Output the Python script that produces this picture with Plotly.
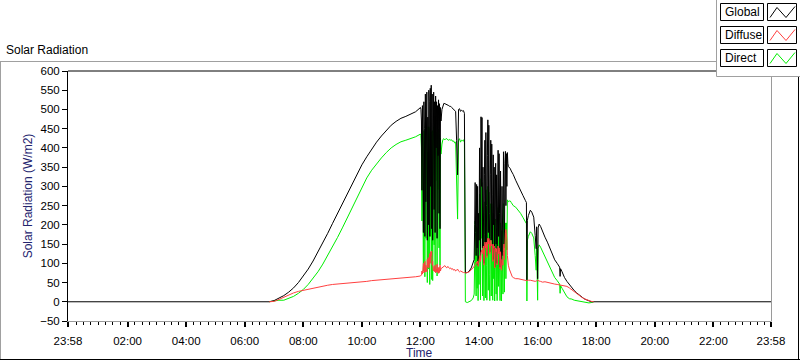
import plotly.graph_objects as go

# ---------------- data ----------------
clock = [
    "2024-01-01 23:58",
    "06:50", "07:00", "07:10", "07:20", "07:30", "07:40", "07:50", "08:00", "08:10", "08:20",
    "08:30", "08:40", "08:50", "09:00", "09:10", "09:20", "09:30", "09:40", "09:50", "10:00",
    "10:10", "10:20", "10:30", "10:40", "10:50", "11:00", "11:10", "11:20", "11:30", "11:40", "11:50",
    "12:00",
    "12:01", "12:02", "12:03", "12:04", "12:05", "12:06", "12:07", "12:08", "12:09", "12:10",
    "12:11", "12:12", "12:13", "12:14", "12:15", "12:16", "12:17", "12:18", "12:19", "12:20",
    "12:21", "12:22", "12:23", "12:24", "12:25", "12:26", "12:27", "12:28", "12:29", "12:30",
    "12:31", "12:32", "12:33", "12:34", "12:35", "12:36", "12:37", "12:38", "12:39", "12:40",
    "12:41", "12:42",
    "12:44", "12:46", "12:48", "12:50", "12:52", "12:54", "12:56", "12:58", "13:00", "13:02",
    "13:04", "13:06", "13:08", "13:10", "13:12", "13:14", "13:16", "13:18", "13:20", "13:22",
    "13:24", "13:26", "13:28", "13:30",
    "13:32", "13:36", "13:40", "13:44", "13:48",
    "13:50", "13:51", "13:52", "13:53", "13:54", "13:55", "13:56", "13:57", "13:58", "13:59",
    "14:00", "14:01", "14:02", "14:03", "14:04", "14:05", "14:06", "14:07", "14:08", "14:09",
    "14:10", "14:11", "14:12", "14:13", "14:14", "14:15", "14:16", "14:17", "14:18", "14:19",
    "14:20", "14:21", "14:22", "14:23", "14:24", "14:25", "14:26", "14:27", "14:28", "14:29",
    "14:30", "14:31", "14:32", "14:33", "14:34", "14:35", "14:36", "14:37", "14:38", "14:39",
    "14:40", "14:41", "14:42", "14:43", "14:44", "14:45", "14:46", "14:47", "14:48", "14:49",
    "14:50", "14:51", "14:52", "14:53", "14:54", "14:55", "14:56", "14:57", "14:58", "14:59",
    "15:00", "15:02", "15:04", "15:06", "15:08", "15:10",
    "15:15", "15:20", "15:25", "15:30", "15:35", "15:37", "15:38", "15:39", "15:41", "15:45",
    "15:48", "15:52", "15:55", "15:57", "15:58", "15:59", "16:00", "16:01", "16:03", "16:06",
    "16:10", "16:15", "16:20", "16:25", "16:30", "16:35", "16:40", "16:45", "16:46", "16:47",
    "16:50", "16:55", "17:00", "17:05", "17:10", "17:15", "17:20", "17:25", "17:30", "17:35",
    "17:40", "17:45", "17:50", "17:55",
    "2024-01-02 23:58",
]

global_wm2 = [
    0,
    0, 3, 9, 16, 25, 36, 50, 66, 85, 106,
    129, 153, 178, 204, 230, 256, 282, 307, 332, 356,
    377, 397, 415, 431, 446, 459, 469, 477, 482, 487, 494,
    505,
    500, 470, 290, 510, 330, 180, 520, 450, 170, 540,
    260, 530, 545, 160, 480, 200, 550, 520, 170, 555,
    300, 563, 190, 540, 160, 530, 545, 240, 520, 180,
    535, 400, 520, 165, 510, 380, 525, 230, 515, 190,
    505, 470,
    500, 512, 516, 515, 514, 512, 513, 510, 508, 508,
    505, 503, 500, 497, 495, 420, 330, 500, 502, 495,
    498, 496, 497, 490,
    75, 76, 80, 88, 100,
    110, 200, 310, 180, 120, 305, 140, 300, 95, 230,
    160, 400, 210, 110, 481, 300, 479, 140, 350, 200,
    100, 330, 420, 150, 440, 250, 120, 380, 473, 180,
    459, 230, 130, 330, 420, 160, 410, 280, 110, 382,
    200, 350, 90, 250, 360, 150, 330, 100, 280, 394,
    170, 385, 230, 90, 340, 180, 85, 300, 200, 120,
    390, 280, 140, 360, 391, 250, 385, 300, 388, 360,
    352, 350, 346, 340, 336, 331,
    316, 301, 289, 276, 263, 258, 57, 212, 224, 238,
    233, 220, 172, 138, 195, 150, 60, 192, 202, 196,
    182, 168, 155, 140, 122, 109, 100, 90, 66, 86,
    78, 63, 53, 44, 38, 29, 23, 18, 12, 8,
    5, 2, 0, 0,
    0,
]

diffuse_wm2 = [
    None,
    0, 1, 6, 12, 18, 23, 27, 30, 33, 36,
    39, 41, 43, 45, 46, 48, 49, 50, 51, 52,
    53, 55, 56, 57, 58, 59, 60, 61, 62, 63, 65,
    67,
    68, 70, 80, 72, 85, 100, 75, 80, 105, 78,
    95, 80, 78, 110, 90, 115, 88, 95, 125, 100,
    130, 120, 132, 95, 105, 82, 80, 92, 78, 95,
    75, 85, 78, 98, 76, 88, 74, 90, 76, 95,
    80, 86,
    88, 90, 92, 94, 90, 88, 92, 90, 86, 88,
    84, 86, 82, 84, 80, 82, 85, 80, 78, 80,
    78, 77, 76, 76,
    75, 76, 78, 83, 88,
    90, 92, 95, 97, 100, 103, 100, 106, 92, 105,
    110, 115, 120, 105, 128, 130, 135, 125, 140, 145,
    95, 150, 155, 140, 150, 155, 115, 160, 165, 150,
    165, 160, 125, 155, 160, 145, 150, 148, 105, 150,
    140, 145, 88, 135, 140, 130, 138, 96, 130, 145,
    125, 140, 130, 86, 130, 115, 82, 110, 100, 95,
    130, 150, 110, 165, 180, 188, 175, 160, 120, 100,
    95, 85, 78, 70, 65, 63,
    60, 60, 58, 57, 55, 55, 55, 56, 56, 56,
    55, 54, 53, 54, 54, 55, 56, 55, 54, 53,
    51, 52, 50, 48, 47, 46, 45, 44, 44, 44,
    43, 41, 40, 36, 31, 25, 20, 16, 12, 8,
    5, 3, 1, 0,
    None,
]

direct_wm2 = [
    None,
    0, 2, 4, 4, 8, 14, 22, 32, 45, 60,
    78, 98, 120, 143, 167, 192, 218, 244, 272, 300,
    322, 342, 359, 374, 388, 400, 409, 416, 420, 424, 429,
    436,
    432, 400, 210, 438, 245, 80, 445, 370, 65, 455,
    165, 450, 455, 50, 390, 85, 455, 425, 45, 450,
    170, 440, 58, 445, 55, 448, 455, 148, 440, 85,
    455, 315, 440, 67, 434, 292, 448, 140, 436, 95,
    425, 384,
    410, 422, 424, 421, 424, 424, 421, 420, 422, 420,
    421, 417, 418, 413, 415, 338, 215, 420, 424, 415,
    420, 419, 421, 414,
    0, -2, 0, 3, 10,
    20, 105, 210, 80, 15, 195, 35, 190, 3, 120,
    45, 280, 85, 5, 320, 165, 310, 15, 205, 50,
    3, 175, 260, 10, 291, 95, 4, 215, 300, 30,
    285, 70, 3, 170, 255, 15, 255, 130, 4, 230,
    60, 200, 2, 110, 215, 20, 190, 3, 145, 245,
    40, 240, 95, 3, 205, 60, 2, 185, 95, 20,
    255, 125, 25, 190, 205, 60, 205, 135, 265, 262,
    260, 262, 262, 258, 255, 250,
    246, 239, 230, 219, 208, 203, 2, 160, 170, 182,
    178, 166, 120, 82, 140, 92, 4, 138, 148, 142,
    131, 116, 105, 92, 76, 63, 55, 46, 22, 42,
    35, 22, 13, 8, 7, 4, 3, 2, 1, 0,
    -2, -3, -2, 0,
    None,
]

tick_times = [
    "2024-01-01 23:58", "2024-01-02 02:00", "2024-01-02 04:00", "2024-01-02 06:00",
    "2024-01-02 08:00", "2024-01-02 10:00", "2024-01-02 12:00", "2024-01-02 14:00",
    "2024-01-02 16:00", "2024-01-02 18:00", "2024-01-02 20:00", "2024-01-02 22:00",
    "2024-01-02 23:58",
]
tick_labels = ["23:58", "02:00", "04:00", "06:00", "08:00", "10:00", "12:00",
               "14:00", "16:00", "18:00", "20:00", "22:00", "23:58"]

series_names = ["Global", "Diffuse", "Direct"]
series_colors = ["#000000", "#ff4040", "#00ee00"]

assert len(clock) == len(global_wm2) == len(diffuse_wm2) == len(direct_wm2)

times = [c if " " in c else "2024-01-02 " + c for c in clock]

# ---------------- geometry ----------------
W, H = 800, 361
L, R, T, B = 68, 29, 71, 40
PW, PH = W - L - R, H - T - B


def px(x):
    return (x - L) / PW


def py(y):
    return (H - B - y) / PH


FONT = "Liberation Sans"
TITLE_COLOR = "#24246e"

fig = go.Figure()
series = {"Global": global_wm2, "Diffuse": diffuse_wm2, "Direct": direct_wm2}
color_of = dict(zip(series_names, series_colors))
for name in ["Direct", "Global", "Diffuse"]:
    fig.add_trace(go.Scatter(x=times, y=series[name], mode="lines", name=name,
                             line=dict(color=color_of[name], width=1), connectgaps=False,
                             showlegend=False, hoverinfo="skip"))

shapes = []


def line(x0, y0, x1, y1, color, width=1):
    shapes.append(dict(type="line", xref="paper", yref="paper",
                       x0=px(x0), y0=py(y0), x1=px(x1), y1=py(y1),
                       line=dict(color=color, width=width), layer="above"))


def rect(x0, y0, x1, y1, fill, color=None, width=1):
    shapes.append(dict(type="rect", xref="paper", yref="paper",
                       x0=px(x0), y0=py(y0), x1=px(x1), y1=py(y1),
                       fillcolor=fill,
                       line=dict(color=color if color else fill, width=width if color else 0),
                       layer="above"))


# plot frame
line(68, 71, 717, 71, "#000000")
line(771.5, 71, 771.5, 321.5, "#9a9a9a")
# outer panel
line(0, 61.5, 717, 61.5, "#a0a0a0")
line(0.5, 61.5, 0.5, 360, "#a0a0a0")
line(0, 359.5, 800, 359.5, "#000000")
line(798.5, 76, 798.5, 360, "#000000")
# legend container
rect(717, -2, 801, 76, "#ffffff")
line(716.5, -2, 716.5, 76.5, "#a0a0a0")
line(716.5, 76.5, 800, 76.5, "#a0a0a0")

annotations = []
row_tops = [3.5, 26.5, 49.5]
for name, col, top in zip(series_names, series_colors, row_tops):
    rect(720.5, top, 763.5, top + 17, "#ffffff", "#000000")
    rect(767.5, top, 796.5, top + 17, "#ffffff", "#000000")
    pts = [(770, top + 14), (777, top + 4), (786, top + 14), (795, top + 3)]
    path = "M " + " L ".join(f"{px(a)},{py(b)}" for a, b in pts)
    shapes.append(dict(type="path", xref="paper", yref="paper", path=path,
                       line=dict(color=col, width=1), layer="above"))
    annotations.append(dict(xref="paper", yref="paper", x=px(722.5), y=py(top + 8.5),
                            text=name, showarrow=False, xanchor="left", yanchor="middle",
                            font=dict(family=FONT, size=12, color="#000000")))

annotations.append(dict(xref="paper", yref="paper", x=px(4), y=py(50),
                        text="Solar Radiation", showarrow=False, xanchor="left",
                        yanchor="middle", font=dict(family=FONT, size=12, color="#000000")))
annotations.append(dict(xref="paper", yref="paper", x=0.5, y=py(353),
                        text="Time", showarrow=False, xanchor="center",
                        yanchor="middle", font=dict(family=FONT, size=12, color=TITLE_COLOR)))

fig.update_layout(
    width=W, height=H,
    margin=dict(l=L, r=R, t=T, b=B, pad=0),
    paper_bgcolor="#ffffff", plot_bgcolor="#ffffff",
    font=dict(family=FONT, size=12, color="#000000"),
    shapes=shapes, annotations=annotations,
    showlegend=False,
)

fig.update_xaxes(
    type="date", automargin=False,
    range=[tick_times[0], tick_times[-1]],
    tickmode="array", tickvals=tick_times, ticktext=tick_labels,
    ticks="outside", ticklen=5, tickwidth=2, tickcolor="#000000",
    ticklabelstandoff=4,
    tickfont=dict(family=FONT, size=11.5, color="#000000"),
    minor=dict(ticks="outside", ticklen=3, tickwidth=1, tickcolor="#000000",
               dtick=15 * 60 * 1000, tick0="2024-01-02 00:00", showgrid=False),
    showline=True, linecolor="#9a9a9a", linewidth=1,
    showgrid=False, zeroline=False,
)
fig.update_yaxes(
    automargin=False,
    range=[-50, 600], tickmode="linear", tick0=0, dtick=50,
    ticks="outside", ticklen=5, tickwidth=1, tickcolor="#000000",
    tickfont=dict(family=FONT, size=11.5, color="#000000"),
    showline=True, linecolor="#000000", linewidth=1,
    showgrid=False, zeroline=False,
    title=dict(text="Solar Radiation (W/m2)", standoff=4,
               font=dict(family=FONT, size=12, color=TITLE_COLOR)),
)

fig.write_html(
    "out.html",
    config={"displayModeBar": False},
    post_script="document.body.style.margin='0px';document.body.style.overflow='hidden';",
)
